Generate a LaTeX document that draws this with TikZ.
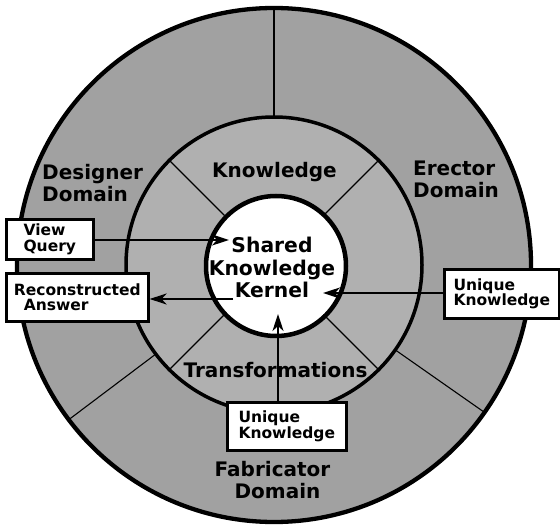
\documentclass[tikz,border=0pt]{standalone}
\usepackage{fontspec}
\setmainfont{DejaVu Sans}
\usetikzlibrary{arrows.meta,calc}
\begin{document}
\begin{tikzpicture}[x=1pt,y=-1pt,
  ringlbl/.style={inner sep=0pt, font=\bfseries\fontsize{20}{22}\selectfont},
  kernlbl/.style={inner sep=0pt, font=\bfseries\fontsize{20.3}{22.5}\selectfont},
  boxlbl/.style={draw=black, line width=2.6pt, fill=white, inner xsep=6pt, inner ysep=4pt,
                 align=left, font=\bfseries\fontsize{15.5}{15.5}\selectfont},
  divline/.style={line width=1.1pt},
  arr/.style={line width=2.2pt, -{Stealth[length=17pt,width=11pt,inset=5pt]}}]
\useasboundingbox (0,0) rectangle (560,529);
\coordinate (c) at (274,265);
\coordinate (ci) at (276,266);
% rings
\fill[black!37] (c) circle[radius=258pt];
\fill[black!31] (c) circle[radius=148pt];
\fill[white] (ci) circle[radius=70pt];
% outer ring dividers
\foreach \a in {90,217,325}
  \draw[divline] ($(c)+(\a:148pt)$) -- ($(c)+(\a:258pt)$);
% middle ring dividers
\foreach \a in {45,135,225,315}
  \draw[divline] ($(c)+(\a:70pt)$) -- ($(c)+(\a:148pt)$);
\draw[line width=4.3pt] (c) circle[radius=257pt];
\draw[line width=3.5pt] (c) circle[radius=148pt];
\draw[line width=4.5pt] (ci) circle[radius=70pt];
% labels (base anchor = baseline of the last line)
\node[ringlbl, anchor=base west, align=left] (designer) at (42,202) {Designer\\Domain};
\node[ringlbl, anchor=base] (knowledge) at (274.5,178) {Knowledge};
\node[ringlbl, anchor=base west, align=left] (erector) at (413,198) {Erector\\Domain};
\node[ringlbl, anchor=base] (transf) at (275.5,378) {Transformations};
\node[ringlbl, anchor=base, align=center] (fabric) at (272.5,498) {Fabricator\\\hspace*{10pt}Domain};
\node[kernlbl, anchor=base, align=center] (kerneltext) at (272,298) {Shared\\Knowledge\\Kernel};
% boxes
\node[boxlbl, minimum width=87pt, minimum height=40pt, anchor=north west] (vq) at (5,218) {View\\Query};
\node[boxlbl, minimum width=142pt, minimum height=48pt, anchor=north west] (ra) at (5,272) {Reconstructed\\\hspace*{10pt}Answer};
\node[boxlbl, minimum width=115pt, minimum height=49pt, anchor=north west] (uk1) at (443,268) {Unique\\Knowledge};
\node[boxlbl, minimum width=119pt, minimum height=48pt, anchor=north west] (uk2) at (226,401) {Unique\\Knowledge};
% arrows
\coordinate (kq) at (229,240);
\coordinate (ka) at (233,299);
\coordinate (ku1) at (323,293);
\coordinate (ku2) at (278,314);
\draw[arr] (vq.east |- kq) -- (kq);
\draw[arr] (ka) -- (ra.east |- ka);
\draw[arr] (uk1.west |- ku1) -- (ku1);
\draw[arr] (uk2.north -| ku2) -- (ku2);
\end{tikzpicture}
\end{document}
